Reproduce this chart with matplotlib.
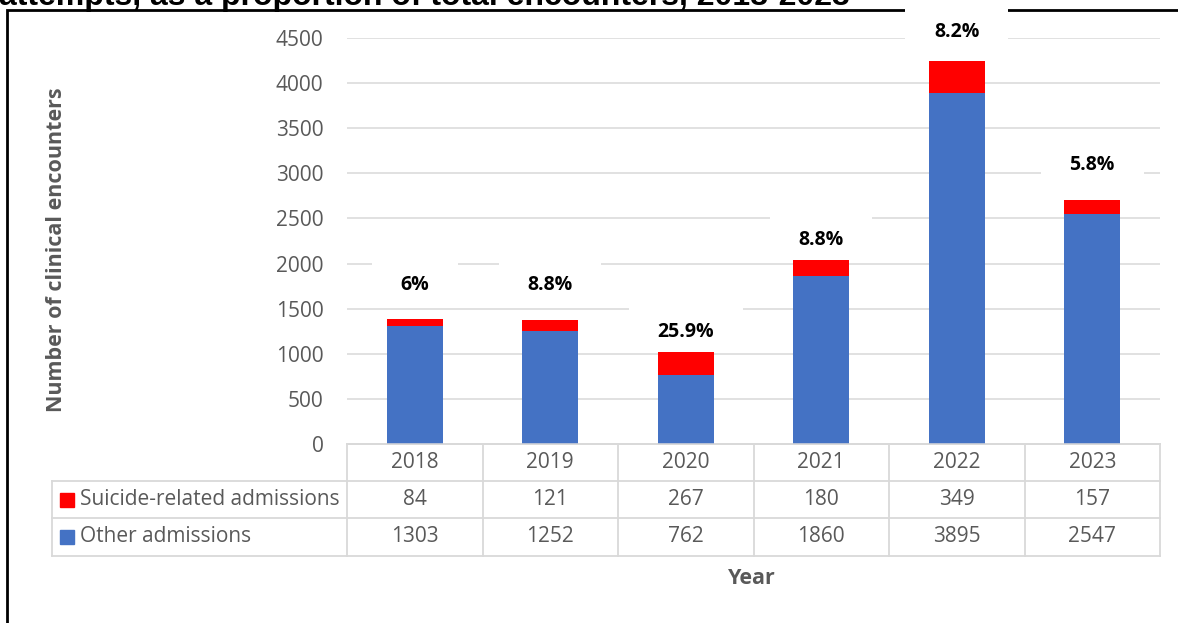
import matplotlib
matplotlib.use("Agg")
import matplotlib.pyplot as plt
from matplotlib.lines import Line2D
from matplotlib.patches import Rectangle
from matplotlib.path import Path
import numpy as np

# ---------------- data ----------------
years = ["2018", "2019", "2020", "2021", "2022", "2023"]
suicide_related = [84, 121, 267, 180, 349, 157]
other_admissions = [1303, 1252, 762, 1860, 3895, 2547]
pct_labels = ["6%", "8.8%", "25.9%", "8.8%", "8.2%", "5.8%"]
y_ticks = [0, 500, 1000, 1500, 2000, 2500, 3000, 3500, 4000, 4500]
series_names = ["Suicide-related admissions", "Other admissions"]
title_text = "attempts, as a proportion of total encounters, 2018-2023"
y_label = "Number of clinical encounters"
x_label = "Year"

# ---------------- style / layout ----------------
BLUE = "#4472C4"
RED = "#FF0000"
GRID = "#D9D9D9"
TXT = "#595959"
FONT = "Open Sans"
FS = 15
label_offsets = [376, 390, 213, 222, 324, 389]  # label height above bar top (data units)


def label_box(x0, y0, width, height, mutation_size):
    """White Excel-like label box: wide horizontally, more room above than below."""
    px = 1.47 * mutation_size
    pt = 0.9 * mutation_size
    pb = 0.5 * mutation_size
    l, r = x0 - px, x0 + width + px
    b, t = y0 - pb, y0 + height + pt
    return Path([(l, b), (r, b), (r, t), (l, t), (l, b)],
                [Path.MOVETO, Path.LINETO, Path.LINETO, Path.LINETO, Path.CLOSEPOLY])


W, H = 1178, 623
fig = plt.figure(figsize=(W / 100, H / 100), dpi=100)

# full-figure pixel axes for frame, title, table
pix = fig.add_axes([0, 0, 1, 1], zorder=0)
pix.set_xlim(0, W)
pix.set_ylim(H, 0)
pix.axis("off")

ax_l, ax_r, ax_b, ax_t = 347, 1160, 444, 38
ax = fig.add_axes([ax_l / W, 1 - ax_b / H, (ax_r - ax_l) / W, (ax_b - ax_t) / H], zorder=2)
ax.patch.set_visible(False)

n = len(years)
x = np.arange(n)
ax.set_xlim(-0.5, n - 0.5)
ax.set_ylim(0, 4500)
ax.bar(x, other_admissions, width=0.41, color=BLUE, zorder=2)
ax.bar(x, suicide_related, bottom=other_admissions, width=0.41, color=RED, zorder=2)

ax.set_yticks(y_ticks)
ax.set_yticklabels([str(v) for v in y_ticks], fontfamily=FONT, fontsize=FS, color=TXT)
ax.tick_params(axis="y", length=0, pad=17)
ax.set_xticks([])
ax.yaxis.grid(True, color=GRID, lw=1.1, zorder=0)
ax.set_axisbelow(True)
for s in ["left", "right", "top"]:
    ax.spines[s].set_visible(False)
ax.spines["bottom"].set_color(GRID)
ax.spines["bottom"].set_linewidth(1.1)

totals = [o + s for o, s in zip(other_admissions, suicide_related)]
for i in range(n):
    ax.text(x[i], totals[i] + label_offsets[i], pct_labels[i], ha="center", va="center",
            fontfamily=FONT, fontsize=14, fontweight="bold", color="black", clip_on=False,
            zorder=5,
            bbox=dict(boxstyle=label_box, fc="white", ec="none"))

# ---------------- frame & title ----------------
pix.add_line(Line2D([6.5, 6.5, W + 10], [H + 10, 10, 10], color="black", lw=2.0,
                    solid_joinstyle="miter", zorder=1))
pix.text(-1, 4.5, title_text, ha="left", va="baseline", fontfamily="Liberation Sans",
         fontweight="bold", fontsize=23, color="black")

# ---------------- axis titles ----------------
pix.text(57, 250, y_label, rotation=90, ha="center", va="center", fontfamily=FONT,
         fontsize=15.5, fontweight="bold", color=TXT)
pix.text(752, 579, x_label, ha="center", va="center", fontfamily=FONT,
         fontsize=15.5, fontweight="bold", color=TXT)

# ---------------- data table ----------------
col_w = (ax_r - ax_l) / n
row_y = [444, 481, 518, 556]
leg_l = 52
lw_t = 1.3
pix.add_line(Line2D([ax_l, ax_r], [row_y[0], row_y[0]], color=GRID, lw=lw_t))
for yy in row_y[1:]:
    pix.add_line(Line2D([leg_l, ax_r], [yy, yy], color=GRID, lw=lw_t))
for j in range(n + 1):
    xx = ax_l + j * col_w
    pix.add_line(Line2D([xx, xx], [row_y[0], row_y[3]], color=GRID, lw=lw_t))
pix.add_line(Line2D([leg_l, leg_l], [row_y[1], row_y[3]], color=GRID, lw=lw_t))

row_vals = [suicide_related, other_admissions]
row_cols = [RED, BLUE]
for j in range(n):
    cx = ax_l + (j + 0.5) * col_w
    pix.text(cx, (row_y[0] + row_y[1]) / 2, years[j], ha="center", va="center",
             fontfamily=FONT, fontsize=FS, color=TXT)
    for r in range(2):
        pix.text(cx, (row_y[r + 1] + row_y[r + 2]) / 2, str(row_vals[r][j]), ha="center",
                 va="center", fontfamily=FONT, fontsize=FS, color=TXT)
for r in range(2):
    cy = (row_y[r + 1] + row_y[r + 2]) / 2
    pix.add_patch(Rectangle((60, cy - 7), 14, 14, color=row_cols[r]))
    pix.text(80, cy, series_names[r], ha="left", va="center", fontfamily=FONT,
             fontsize=FS, color=TXT)

fig.savefig("out.png", dpi=100)
